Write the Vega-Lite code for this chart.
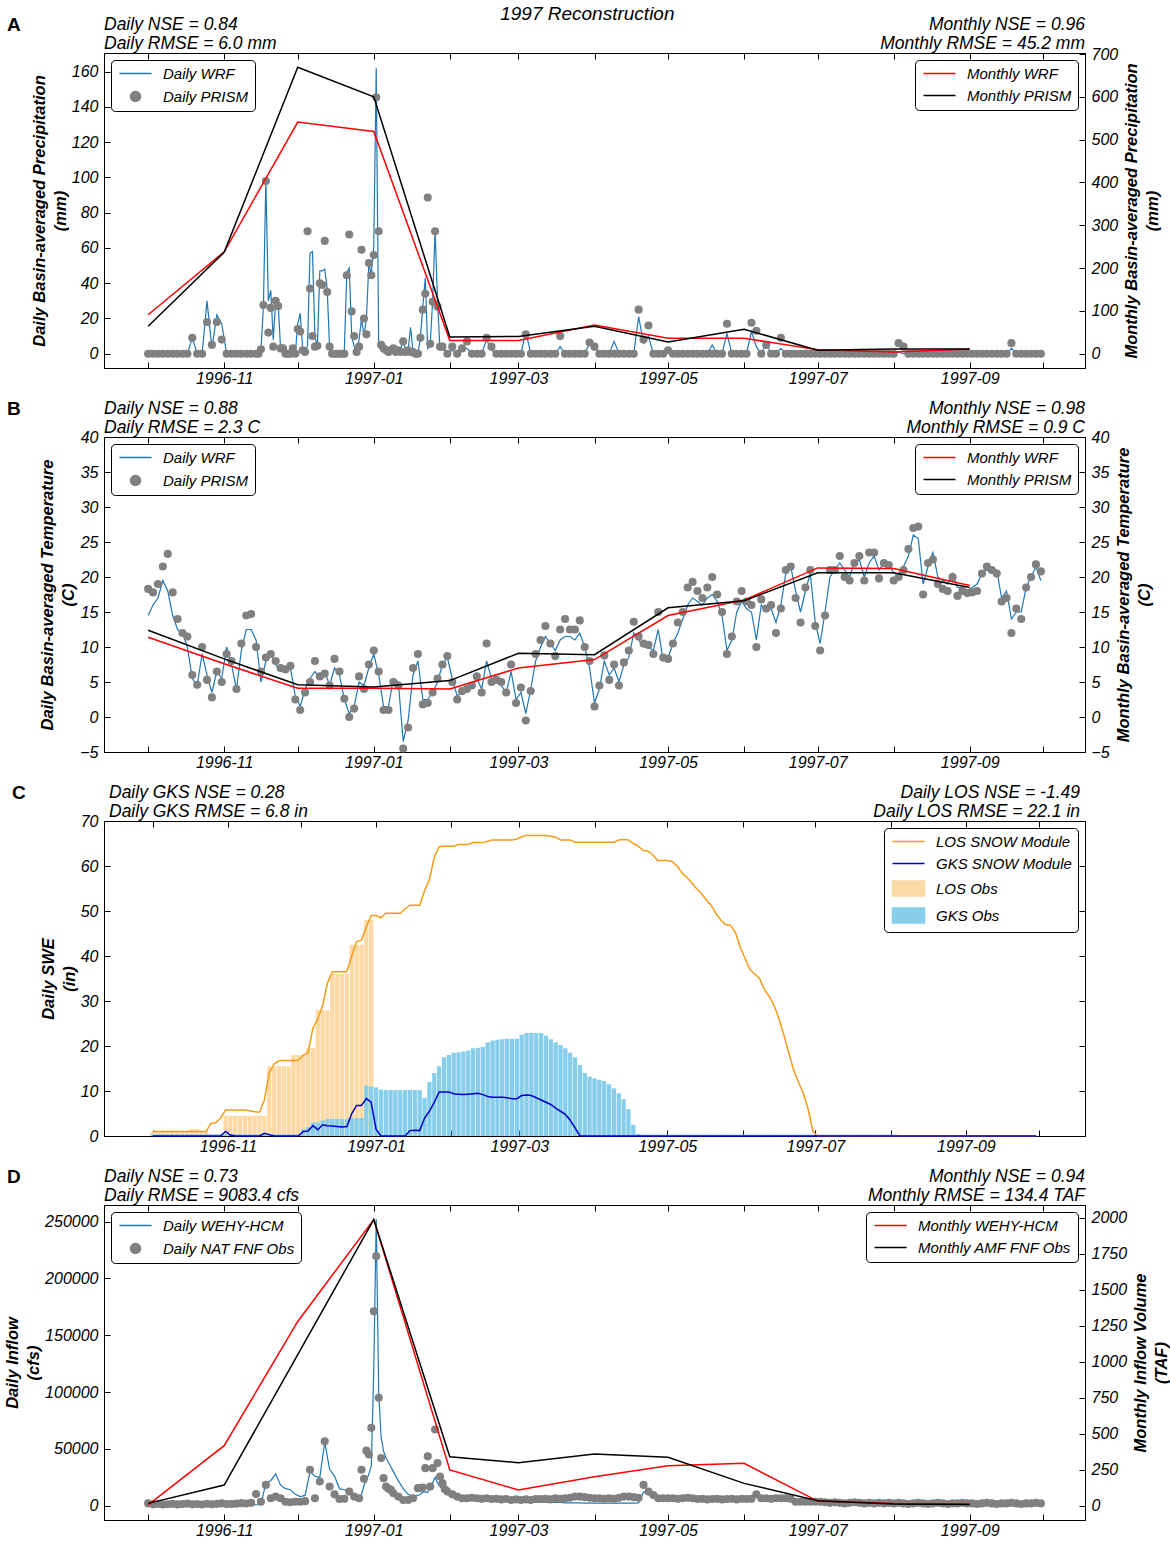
{
"$schema":"https://vega.github.io/schema/vega-lite/v6.json",
"background":"white",
"padding":{"left":4,"right":0,"top":4,"bottom":0},
"title":{"text":"1997 Reconstruction","fontSize":19,"fontStyle":"italic","fontWeight":"normal","anchor":"middle","frame":"bounds","offset":-8,"color":"black"},
"config":{
 "font":"Liberation Sans",
 "view":{"stroke":"black","strokeWidth":1},
 "axis":{"domainColor":"black","tickColor":"black","tickSize":-6,"labelPadding":12,"labelFontSize":16,"labelFontStyle":"italic","labelColor":"black","titleFontSize":16.5,"titleFontStyle":"italic","titleFontWeight":"bold","titleColor":"black","titlePadding":3,"titleLineHeight":21,"grid":false,"labelOverlap":false},
 "legend":{"strokeColor":"black","fillColor":"white","cornerRadius":4,"padding":6,"labelFontSize":15,"labelFontStyle":"italic","labelColor":"black","labelOffset":31,"rowPadding":6,"offset":7,"symbolSize":100}
},
"datasets":{
"m":[
{"t":"1996-10-01","aw":91,"ap":64,"bw":11.4,"bp":12.4,"dw":5,"dp":16},
{"t":"1996-11-01","aw":238,"ap":237,"bw":7.6,"bp":8.3,"dw":417,"dp":143},
{"t":"1996-12-01","aw":541,"ap":669,"bw":4.1,"bp":4.6,"dw":1280,"dp":1050},
{"t":"1997-01-01","aw":519,"ap":600,"bw":4.1,"bp":4.3,"dw":1988,"dp":1988},
{"t":"1997-02-01","aw":31,"ap":39,"bw":4.0,"bp":5.2,"dw":248,"dp":340},
{"t":"1997-03-01","aw":31,"ap":40,"bw":7.0,"bp":9.1,"dw":109,"dp":299},
{"t":"1997-04-01","aw":67,"ap":64,"bw":8.2,"bp":8.9,"dw":201,"dp":359},
{"t":"1997-05-01","aw":36,"ap":27,"bw":14.5,"bp":15.6,"dw":278,"dp":336},
{"t":"1997-06-01","aw":36,"ap":57,"bw":16.7,"bp":16.6,"dw":294,"dp":155},
{"t":"1997-07-01","aw":9,"ap":8,"bw":21.3,"bp":20.6,"dw":32,"dp":35},
{"t":"1997-08-01","aw":4,"ap":11,"bw":21.2,"bp":20.6,"dw":15,"dp":12},
{"t":"1997-09-01","aw":11,"ap":11,"bw":18.8,"bp":18.5,"dw":12,"dp":9}
],
"a":[
{"t":"1996-10-01","w":0,"p":0},{"t":"1996-10-03","w":0,"p":0},{"t":"1996-10-05","w":0,"p":0},{"t":"1996-10-07","w":0,"p":0},{"t":"1996-10-09","w":0,"p":0},{"t":"1996-10-11","w":0,"p":0},{"t":"1996-10-13","w":0,"p":0},{"t":"1996-10-15","w":0,"p":0},{"t":"1996-10-17","w":0,"p":0},{"t":"1996-10-19","w":9,"p":9},{"t":"1996-10-21","w":0,"p":0},{"t":"1996-10-23","w":0,"p":0},{"t":"1996-10-25","w":30,"p":18},{"t":"1996-10-27","w":3,"p":5},{"t":"1996-10-29","w":22,"p":18},{"t":"1996-10-31","w":17,"p":8},
{"t":"1996-11-02","w":0,"p":0},{"t":"1996-11-04","w":0,"p":0},{"t":"1996-11-06","w":0,"p":0},{"t":"1996-11-08","w":0,"p":0},{"t":"1996-11-10","w":0,"p":0},{"t":"1996-11-12","w":0,"p":0},{"t":"1996-11-14","w":0,"p":0},{"t":"1996-11-15","w":0,"p":0},{"t":"1996-11-16","w":2,"p":2.5},{"t":"1996-11-17","w":27,"p":27.6},{"t":"1996-11-18","w":99,"p":98},{"t":"1996-11-19","w":30,"p":12},{"t":"1996-11-20","w":36,"p":26},{"t":"1996-11-21","w":8,"p":4},{"t":"1996-11-22","w":30,"p":30},{"t":"1996-11-23","w":29,"p":27},{"t":"1996-11-24","w":3,"p":3},{"t":"1996-11-25","w":3,"p":3},{"t":"1996-11-26","w":0,"p":0},{"t":"1996-11-27","w":0,"p":0},{"t":"1996-11-28","w":3,"p":0},{"t":"1996-11-29","w":2,"p":3},{"t":"1996-11-30","w":0,"p":0},
{"t":"1996-12-01","w":17,"p":14},{"t":"1996-12-02","w":23,"p":12.6},{"t":"1996-12-03","w":3,"p":2},{"t":"1996-12-04","w":0,"p":1},{"t":"1996-12-05","w":5,"p":69.5},{"t":"1996-12-06","w":57,"p":37},{"t":"1996-12-07","w":58,"p":10},{"t":"1996-12-08","w":10,"p":4},{"t":"1996-12-09","w":4,"p":4.5},{"t":"1996-12-10","w":47,"p":40},{"t":"1996-12-11","w":47,"p":39},{"t":"1996-12-12","w":48,"p":64},{"t":"1996-12-13","w":37,"p":35},{"t":"1996-12-14","w":3,"p":4},{"t":"1996-12-15","w":0,"p":0},{"t":"1996-12-16","w":0,"p":0},{"t":"1996-12-17","w":0,"p":0},{"t":"1996-12-18","w":0,"p":0},{"t":"1996-12-19","w":0,"p":0},{"t":"1996-12-20","w":2,"p":0},{"t":"1996-12-21","w":46,"p":44.5},{"t":"1996-12-22","w":48.6,"p":67.6},{"t":"1996-12-23","w":10,"p":24},{"t":"1996-12-24","w":4,"p":10},{"t":"1996-12-25","w":1,"p":1},{"t":"1996-12-26","w":8,"p":4},{"t":"1996-12-27","w":20,"p":59},{"t":"1996-12-28","w":10,"p":20},{"t":"1996-12-29","w":20,"p":11},{"t":"1996-12-30","w":51,"p":51.5},{"t":"1996-12-31","w":45,"p":44.5},
{"t":"1997-01-01","w":61,"p":56},{"t":"1997-01-02","w":162,"p":145.5},{"t":"1997-01-03","w":5,"p":69.5},{"t":"1997-01-04","w":2,"p":5},{"t":"1997-01-05","w":1,"p":3},{"t":"1997-01-06","w":2,"p":2},{"t":"1997-01-07","w":1,"p":1},{"t":"1997-01-08","w":3,"p":2},{"t":"1997-01-09","w":2,"p":3},{"t":"1997-01-10","w":1,"p":1},{"t":"1997-01-11","w":2,"p":2},{"t":"1997-01-12","w":3,"p":1},{"t":"1997-01-13","w":7,"p":7},{"t":"1997-01-14","w":2,"p":1},{"t":"1997-01-15","w":2,"p":2},{"t":"1997-01-16","w":15,"p":1},{"t":"1997-01-17","w":1,"p":1},{"t":"1997-01-18","w":0,"p":0},{"t":"1997-01-19","w":0,"p":0},{"t":"1997-01-20","w":9,"p":9},{"t":"1997-01-21","w":27,"p":25},{"t":"1997-01-22","w":43,"p":34},{"t":"1997-01-23","w":3,"p":88.6},{"t":"1997-01-24","w":5,"p":5.6},{"t":"1997-01-25","w":30,"p":29.5},{"t":"1997-01-26","w":70,"p":69.5},{"t":"1997-01-27","w":30,"p":26.7},{"t":"1997-01-28","w":2,"p":4},{"t":"1997-01-29","w":3,"p":4},{"t":"1997-01-31","w":0,"p":0},
{"t":"1997-02-02","w":2,"p":4},{"t":"1997-02-04","w":0,"p":0},{"t":"1997-02-06","w":3,"p":3},{"t":"1997-02-08","w":3,"p":7},{"t":"1997-02-10","w":0,"p":0},{"t":"1997-02-12","w":0,"p":0},{"t":"1997-02-14","w":0,"p":0},{"t":"1997-02-16","w":8,"p":9},{"t":"1997-02-18","w":2,"p":4},{"t":"1997-02-20","w":0,"p":0},{"t":"1997-02-22","w":0,"p":0},{"t":"1997-02-24","w":0,"p":0},{"t":"1997-02-26","w":0,"p":0},{"t":"1997-02-28","w":0,"p":0},
{"t":"1997-03-02","w":0,"p":0},{"t":"1997-03-04","w":12.6,"p":11},{"t":"1997-03-06","w":0,"p":0},{"t":"1997-03-08","w":0,"p":0},{"t":"1997-03-10","w":0,"p":0},{"t":"1997-03-12","w":0,"p":0},{"t":"1997-03-14","w":0,"p":0},{"t":"1997-03-16","w":0,"p":0},{"t":"1997-03-18","w":4,"p":10},{"t":"1997-03-20","w":0,"p":0},{"t":"1997-03-22","w":0,"p":0},{"t":"1997-03-24","w":0,"p":0},{"t":"1997-03-26","w":0,"p":0},{"t":"1997-03-28","w":0,"p":0},{"t":"1997-03-30","w":6,"p":6.4},
{"t":"1997-04-01","w":5,"p":4},{"t":"1997-04-03","w":0,"p":0},{"t":"1997-04-05","w":0,"p":0},{"t":"1997-04-07","w":0,"p":0},{"t":"1997-04-09","w":7,"p":0},{"t":"1997-04-11","w":0,"p":0},{"t":"1997-04-13","w":0,"p":0},{"t":"1997-04-15","w":0,"p":0},{"t":"1997-04-17","w":0,"p":0},{"t":"1997-04-19","w":21,"p":25},{"t":"1997-04-21","w":6,"p":8},{"t":"1997-04-23","w":10,"p":16},{"t":"1997-04-25","w":0,"p":0},{"t":"1997-04-27","w":0,"p":0},{"t":"1997-04-29","w":0,"p":0},
{"t":"1997-05-01","w":1,"p":2},{"t":"1997-05-03","w":0,"p":0},{"t":"1997-05-05","w":0,"p":0},{"t":"1997-05-07","w":0,"p":0},{"t":"1997-05-09","w":0,"p":0},{"t":"1997-05-11","w":0,"p":0},{"t":"1997-05-13","w":0,"p":0},{"t":"1997-05-15","w":0,"p":0},{"t":"1997-05-17","w":0,"p":0},{"t":"1997-05-19","w":5,"p":0},{"t":"1997-05-21","w":0,"p":0},{"t":"1997-05-23","w":0,"p":0},{"t":"1997-05-25","w":11.6,"p":17},{"t":"1997-05-27","w":0,"p":0},{"t":"1997-05-29","w":0,"p":0},{"t":"1997-05-31","w":0,"p":0},
{"t":"1997-06-02","w":0,"p":0},{"t":"1997-06-04","w":12.6,"p":17.6},{"t":"1997-06-06","w":4,"p":13},{"t":"1997-06-08","w":0,"p":0},{"t":"1997-06-10","w":6,"p":5},{"t":"1997-06-12","w":0,"p":0},{"t":"1997-06-14","w":0,"p":0},{"t":"1997-06-16","w":3,"p":9},{"t":"1997-06-18","w":0,"p":0},{"t":"1997-06-20","w":0,"p":0},{"t":"1997-06-22","w":0,"p":0},{"t":"1997-06-24","w":0,"p":0},{"t":"1997-06-26","w":0,"p":0},{"t":"1997-06-28","w":0,"p":0},{"t":"1997-06-30","w":0,"p":0},
{"t":"1997-07-02","w":0,"p":0},{"t":"1997-07-04","w":0,"p":0},{"t":"1997-07-06","w":0,"p":0},{"t":"1997-07-08","w":0,"p":0},{"t":"1997-07-10","w":0,"p":0},{"t":"1997-07-12","w":0,"p":0},{"t":"1997-07-14","w":0,"p":0},{"t":"1997-07-16","w":0,"p":0},{"t":"1997-07-18","w":0,"p":0},{"t":"1997-07-20","w":0,"p":0},{"t":"1997-07-22","w":0,"p":0},{"t":"1997-07-24","w":0,"p":0},{"t":"1997-07-26","w":0,"p":0},{"t":"1997-07-28","w":0,"p":0},{"t":"1997-07-30","w":0,"p":0},
{"t":"1997-08-01","w":0,"p":0},{"t":"1997-08-03","w":1,"p":6},{"t":"1997-08-05","w":0,"p":4},{"t":"1997-08-07","w":0,"p":0},{"t":"1997-08-09","w":0,"p":0},{"t":"1997-08-11","w":0,"p":0},{"t":"1997-08-13","w":0,"p":0},{"t":"1997-08-15","w":0,"p":0},{"t":"1997-08-17","w":0,"p":0},{"t":"1997-08-19","w":0,"p":0},{"t":"1997-08-21","w":0,"p":0},{"t":"1997-08-23","w":0,"p":0},{"t":"1997-08-25","w":0,"p":0},{"t":"1997-08-27","w":0,"p":0},{"t":"1997-08-29","w":0,"p":0},{"t":"1997-08-31","w":0,"p":0},
{"t":"1997-09-02","w":0,"p":0},{"t":"1997-09-04","w":0,"p":0},{"t":"1997-09-06","w":0,"p":0},{"t":"1997-09-08","w":0,"p":0},{"t":"1997-09-10","w":0,"p":0},{"t":"1997-09-12","w":0,"p":0},{"t":"1997-09-14","w":0,"p":0},{"t":"1997-09-16","w":0,"p":0},{"t":"1997-09-18","w":3,"p":6},{"t":"1997-09-20","w":0,"p":0},{"t":"1997-09-22","w":0,"p":0},{"t":"1997-09-24","w":0,"p":0},{"t":"1997-09-26","w":0,"p":0},{"t":"1997-09-28","w":0,"p":0},{"t":"1997-09-30","w":0,"p":0}
],
"b":[
{"t":"1996-10-01","w":14.5,"p":18.3},{"t":"1996-10-03","w":16,"p":17.8},{"t":"1996-10-05","w":17,"p":19},{"t":"1996-10-07","w":19.5,"p":21.5},{"t":"1996-10-09","w":18,"p":23.3},{"t":"1996-10-11","w":14.5,"p":17.8},{"t":"1996-10-13","w":12.5,"p":14},{"t":"1996-10-15","w":12,"p":12},{"t":"1996-10-17","w":10,"p":11.5},{"t":"1996-10-19","w":5.5,"p":6},{"t":"1996-10-21","w":4.5,"p":4.6},{"t":"1996-10-23","w":9,"p":10},{"t":"1996-10-25","w":6,"p":5.3},{"t":"1996-10-27","w":3.5,"p":2.8},{"t":"1996-10-29","w":6.5,"p":6.5},{"t":"1996-10-31","w":5.5,"p":5},
{"t":"1996-11-02","w":10,"p":9},{"t":"1996-11-04","w":7.5,"p":8},{"t":"1996-11-06","w":4,"p":4},{"t":"1996-11-08","w":9.5,"p":10.5},{"t":"1996-11-10","w":12.5,"p":14.5},{"t":"1996-11-12","w":12.5,"p":14.7},{"t":"1996-11-14","w":11,"p":10},{"t":"1996-11-16","w":5,"p":6.5},{"t":"1996-11-18","w":8,"p":8.5},{"t":"1996-11-20","w":9,"p":9},{"t":"1996-11-22","w":7.5,"p":8},{"t":"1996-11-24","w":6.5,"p":7},{"t":"1996-11-26","w":6.5,"p":6.8},{"t":"1996-11-28","w":7,"p":7.3},{"t":"1996-11-30","w":3,"p":2.5},
{"t":"1996-12-02","w":1.5,"p":1},{"t":"1996-12-04","w":4,"p":3.5},{"t":"1996-12-06","w":5.5,"p":5},{"t":"1996-12-08","w":6.5,"p":8},{"t":"1996-12-10","w":5.5,"p":5.8},{"t":"1996-12-12","w":6.5,"p":6.2},{"t":"1996-12-14","w":4.5,"p":4.5},{"t":"1996-12-16","w":7,"p":8.3},{"t":"1996-12-18","w":6,"p":6.5},{"t":"1996-12-20","w":2.5,"p":2.6},{"t":"1996-12-22","w":0.5,"p":0},{"t":"1996-12-24","w":1.5,"p":1.2},{"t":"1996-12-26","w":5,"p":5.8},{"t":"1996-12-28","w":4.5,"p":4},{"t":"1996-12-30","w":7,"p":7.5},
{"t":"1997-01-01","w":9,"p":9.5},{"t":"1997-01-03","w":6,"p":6.5},{"t":"1997-01-05","w":1.5,"p":1},{"t":"1997-01-07","w":1.5,"p":1},{"t":"1997-01-09","w":5.5,"p":5},{"t":"1997-01-11","w":5,"p":4.5},{"t":"1997-01-13","w":-3.5,"p":-4.5},{"t":"1997-01-15","w":-0.5,"p":-1.5},{"t":"1997-01-17","w":6,"p":7},{"t":"1997-01-19","w":8,"p":9},{"t":"1997-01-21","w":2.5,"p":1.8},{"t":"1997-01-23","w":2.5,"p":2},{"t":"1997-01-25","w":3.5,"p":3.5},{"t":"1997-01-27","w":5,"p":5.5},{"t":"1997-01-29","w":7.5,"p":7.5},{"t":"1997-01-31","w":8.5,"p":8.7},
{"t":"1997-02-02","w":5.5,"p":5},{"t":"1997-02-04","w":3,"p":2.5},{"t":"1997-02-06","w":3.5,"p":3.7},{"t":"1997-02-08","w":4.5,"p":4},{"t":"1997-02-10","w":4.5,"p":4.5},{"t":"1997-02-12","w":5.5,"p":5.8},{"t":"1997-02-14","w":4,"p":3.5},{"t":"1997-02-16","w":8,"p":10.5},{"t":"1997-02-18","w":5.5,"p":5},{"t":"1997-02-20","w":5,"p":5.3},{"t":"1997-02-22","w":4.5,"p":5},{"t":"1997-02-24","w":3.5,"p":3.5},{"t":"1997-02-26","w":6.5,"p":7.5},{"t":"1997-02-28","w":2.5,"p":2},
{"t":"1997-03-02","w":3.5,"p":4.2},{"t":"1997-03-04","w":0.5,"p":-0.5},{"t":"1997-03-06","w":4,"p":3.7},{"t":"1997-03-08","w":8,"p":9},{"t":"1997-03-10","w":10,"p":11},{"t":"1997-03-12","w":11.5,"p":13},{"t":"1997-03-14","w":10.5,"p":10.5},{"t":"1997-03-16","w":9.5,"p":8.7},{"t":"1997-03-18","w":11,"p":12.5},{"t":"1997-03-20","w":11.5,"p":14},{"t":"1997-03-22","w":11.5,"p":12.5},{"t":"1997-03-24","w":11,"p":12.5},{"t":"1997-03-26","w":12,"p":13.8},{"t":"1997-03-28","w":10,"p":10},{"t":"1997-03-30","w":7,"p":8},
{"t":"1997-04-01","w":2,"p":1.5},{"t":"1997-04-03","w":4,"p":4.5},{"t":"1997-04-05","w":8,"p":8.8},{"t":"1997-04-07","w":6,"p":5.3},{"t":"1997-04-09","w":7,"p":7.5},{"t":"1997-04-11","w":5,"p":4.5},{"t":"1997-04-13","w":7.5,"p":7.8},{"t":"1997-04-15","w":8.5,"p":9.5},{"t":"1997-04-17","w":12,"p":13.6},{"t":"1997-04-19","w":11,"p":11.5},{"t":"1997-04-21","w":10,"p":10.5},{"t":"1997-04-23","w":10,"p":10.3},{"t":"1997-04-25","w":9.5,"p":9},{"t":"1997-04-27","w":12.5,"p":15},{"t":"1997-04-29","w":8,"p":8.5},
{"t":"1997-05-01","w":8.5,"p":8.3},{"t":"1997-05-03","w":10.5,"p":10.5},{"t":"1997-05-05","w":12,"p":13.5},{"t":"1997-05-07","w":14,"p":15},{"t":"1997-05-09","w":16,"p":18.5},{"t":"1997-05-11","w":17,"p":19.3},{"t":"1997-05-13","w":16.5,"p":18},{"t":"1997-05-15","w":16,"p":17},{"t":"1997-05-17","w":17,"p":18.5},{"t":"1997-05-19","w":17.5,"p":20},{"t":"1997-05-21","w":16.5,"p":17.5},{"t":"1997-05-23","w":14.5,"p":15},{"t":"1997-05-25","w":9.5,"p":9},{"t":"1997-05-27","w":11,"p":11.5},{"t":"1997-05-29","w":15,"p":16.5},{"t":"1997-05-31","w":16.5,"p":18},
{"t":"1997-06-02","w":15.5,"p":16.5},{"t":"1997-06-04","w":15,"p":16},{"t":"1997-06-06","w":11,"p":10},{"t":"1997-06-08","w":16,"p":16.8},{"t":"1997-06-10","w":15,"p":15.5},{"t":"1997-06-12","w":15.5,"p":16},{"t":"1997-06-14","w":13.5,"p":12},{"t":"1997-06-16","w":16,"p":15.5},{"t":"1997-06-18","w":20.5,"p":21},{"t":"1997-06-20","w":21.5,"p":21.5},{"t":"1997-06-22","w":18,"p":17},{"t":"1997-06-24","w":15,"p":13.5},{"t":"1997-06-26","w":18,"p":18.5},{"t":"1997-06-28","w":20.5,"p":21},{"t":"1997-06-30","w":13.5,"p":13},
{"t":"1997-07-02","w":10.5,"p":9.5},{"t":"1997-07-04","w":15,"p":14.5},{"t":"1997-07-06","w":20,"p":21},{"t":"1997-07-08","w":21,"p":21},{"t":"1997-07-10","w":22,"p":23},{"t":"1997-07-12","w":21,"p":20},{"t":"1997-07-14","w":20,"p":19.5},{"t":"1997-07-16","w":22,"p":22},{"t":"1997-07-18","w":22.5,"p":23},{"t":"1997-07-20","w":20,"p":19.5},{"t":"1997-07-22","w":22,"p":23.5},{"t":"1997-07-24","w":23,"p":23.5},{"t":"1997-07-26","w":21,"p":19.8},{"t":"1997-07-28","w":22,"p":22},{"t":"1997-07-30","w":22,"p":21.7},
{"t":"1997-08-01","w":20.5,"p":19.5},{"t":"1997-08-03","w":20.5,"p":20},{"t":"1997-08-05","w":21.5,"p":21},{"t":"1997-08-07","w":23,"p":24},{"t":"1997-08-09","w":26,"p":27},{"t":"1997-08-11","w":25.5,"p":27.2},{"t":"1997-08-13","w":19,"p":17.5},{"t":"1997-08-15","w":21.5,"p":22},{"t":"1997-08-17","w":23.5,"p":22.5},{"t":"1997-08-19","w":20,"p":19},{"t":"1997-08-21","w":19.5,"p":18.3},{"t":"1997-08-23","w":19,"p":18},{"t":"1997-08-25","w":20.5,"p":20},{"t":"1997-08-27","w":18.5,"p":17.3},{"t":"1997-08-29","w":18.5,"p":18},{"t":"1997-08-31","w":18,"p":17.7},
{"t":"1997-09-02","w":18.5,"p":17.8},{"t":"1997-09-04","w":19,"p":18},{"t":"1997-09-06","w":20.5,"p":20.5},{"t":"1997-09-08","w":21,"p":21.5},{"t":"1997-09-10","w":20.5,"p":21},{"t":"1997-09-12","w":21,"p":20.5},{"t":"1997-09-14","w":17,"p":16.5},{"t":"1997-09-16","w":18,"p":17},{"t":"1997-09-18","w":14,"p":12},{"t":"1997-09-20","w":15,"p":15.5},{"t":"1997-09-22","w":15,"p":14},{"t":"1997-09-24","w":18.5,"p":18.5},{"t":"1997-09-26","w":20,"p":20},{"t":"1997-09-28","w":21.5,"p":21.8},{"t":"1997-09-30","w":19.5,"p":20.8}
],
"c":[
{"t":"1996-10-01","l":1,"g":0,"lo":1,"go":0.4},{"t":"1996-10-03","l":1,"g":0,"lo":1,"go":0.4},{"t":"1996-10-05","l":1,"g":0,"lo":1,"go":0.4},{"t":"1996-10-07","l":1,"g":0,"lo":1,"go":0.4},{"t":"1996-10-09","l":1,"g":0,"lo":1,"go":0.4},{"t":"1996-10-11","l":1,"g":0,"lo":1,"go":0.4},{"t":"1996-10-13","l":1,"g":0,"lo":1,"go":0.4},{"t":"1996-10-15","l":1,"g":0,"lo":1,"go":0.4},{"t":"1996-10-17","l":1,"g":0,"lo":1.5,"go":0.4},{"t":"1996-10-19","l":1,"g":0,"lo":1.5,"go":0.4},{"t":"1996-10-21","l":1,"g":0,"lo":1,"go":0.4},{"t":"1996-10-23","l":1,"g":0,"lo":1,"go":0.4},{"t":"1996-10-25","l":2.8,"g":0,"lo":0.5,"go":0.4},{"t":"1996-10-27","l":3,"g":0,"lo":0.5,"go":0.4},{"t":"1996-10-29","l":4,"g":0,"lo":0.5,"go":0.4},{"t":"1996-10-31","l":5.8,"g":1,"lo":4.5,"go":0.4},
{"t":"1996-11-02","l":5.8,"g":0.2,"lo":4.5,"go":0.4},{"t":"1996-11-04","l":5.8,"g":0,"lo":4.5,"go":0.4},{"t":"1996-11-06","l":5.8,"g":0,"lo":4.5,"go":0.4},{"t":"1996-11-08","l":5.8,"g":0,"lo":4.5,"go":0.4},{"t":"1996-11-10","l":5.6,"g":0,"lo":4.5,"go":0.4},{"t":"1996-11-12","l":5.4,"g":0,"lo":4.5,"go":0.4},{"t":"1996-11-14","l":5.3,"g":0,"lo":4.5,"go":0.4},{"t":"1996-11-16","l":8,"g":0.6,"lo":4.5,"go":0.4},{"t":"1996-11-18","l":14,"g":0.3,"lo":15.5,"go":0.4},{"t":"1996-11-20","l":16,"g":0,"lo":15.5,"go":0.4},{"t":"1996-11-22","l":16.7,"g":0,"lo":15.5,"go":0.4},{"t":"1996-11-24","l":16.8,"g":0,"lo":15.5,"go":0.4},{"t":"1996-11-26","l":16.8,"g":0,"lo":15.5,"go":0.4},{"t":"1996-11-28","l":16.8,"g":0,"lo":18,"go":0.4},{"t":"1996-11-30","l":16.8,"g":0,"lo":18,"go":0.4},
{"t":"1996-12-02","l":18,"g":1,"lo":18,"go":1.5},{"t":"1996-12-04","l":18.5,"g":1.1,"lo":19.5,"go":2},{"t":"1996-12-06","l":24,"g":2.3,"lo":19.5,"go":3},{"t":"1996-12-08","l":26,"g":1.4,"lo":28,"go":3},{"t":"1996-12-10","l":29,"g":2.5,"lo":28,"go":3.5},{"t":"1996-12-12","l":34,"g":2.3,"lo":28,"go":3.8},{"t":"1996-12-14","l":36.5,"g":2.2,"lo":36,"go":3.8},{"t":"1996-12-16","l":36.5,"g":2.1,"lo":36,"go":3.8},{"t":"1996-12-18","l":36.5,"g":2,"lo":36,"go":3.8},{"t":"1996-12-20","l":36.5,"g":2.1,"lo":36,"go":3.8},{"t":"1996-12-22","l":40,"g":5,"lo":42.5,"go":4},{"t":"1996-12-24","l":43.2,"g":6.8,"lo":42.5,"go":4},{"t":"1996-12-26","l":43.5,"g":6.8,"lo":42.5,"go":4},{"t":"1996-12-28","l":46.5,"g":8.3,"lo":48,"go":11.2},{"t":"1996-12-30","l":49,"g":7.5,"lo":48,"go":11},
{"t":"1997-01-01","l":49,"g":1.5,"go":10.8},{"t":"1997-01-03","l":48.5,"g":0,"go":10.3},{"t":"1997-01-05","l":49.5,"g":0,"go":10.2},{"t":"1997-01-07","l":49.5,"g":0,"go":10.2},{"t":"1997-01-09","l":49.5,"g":0,"go":10.2},{"t":"1997-01-11","l":49.5,"g":0,"go":10.2},{"t":"1997-01-13","l":50.5,"g":0,"go":10.2},{"t":"1997-01-15","l":51.3,"g":1.2,"go":10.2},{"t":"1997-01-17","l":51.3,"g":1.3,"go":10.2},{"t":"1997-01-19","l":51.3,"g":1.2,"go":10.2},{"t":"1997-01-21","l":54.5,"g":4,"go":8.5},{"t":"1997-01-23","l":57,"g":5.5,"go":12},{"t":"1997-01-25","l":62,"g":7.5,"go":14},{"t":"1997-01-27","l":64.3,"g":9.8,"go":15.5},{"t":"1997-01-29","l":64.4,"g":9.8,"go":17.5},{"t":"1997-01-31","l":64.4,"g":9.8,"go":18},
{"t":"1997-02-02","l":64.4,"g":9.4,"go":18.5},{"t":"1997-02-04","l":64.8,"g":9.3,"go":18.6},{"t":"1997-02-06","l":64.8,"g":9.2,"go":18.8},{"t":"1997-02-08","l":64.8,"g":9.3,"go":19},{"t":"1997-02-10","l":65.2,"g":9.4,"go":19.5},{"t":"1997-02-12","l":65.2,"g":9.5,"go":19.6},{"t":"1997-02-14","l":65.2,"g":9.2,"go":19.8},{"t":"1997-02-16","l":65.5,"g":8.8,"go":20.8},{"t":"1997-02-18","l":65.8,"g":8.6,"go":21.2},{"t":"1997-02-20","l":65.8,"g":8.6,"go":21.4},{"t":"1997-02-22","l":65.8,"g":8.6,"go":21.5},{"t":"1997-02-24","l":65.8,"g":8.5,"go":21.6},{"t":"1997-02-26","l":65.8,"g":8.3,"go":21.6},{"t":"1997-02-28","l":66,"g":8.3,"go":21.6},
{"t":"1997-03-02","l":66.5,"g":9,"go":22.5},{"t":"1997-03-04","l":66.8,"g":9.1,"go":22.9},{"t":"1997-03-06","l":66.8,"g":9,"go":22.9},{"t":"1997-03-08","l":66.8,"g":8.5,"go":22.9},{"t":"1997-03-10","l":66.8,"g":8,"go":22.9},{"t":"1997-03-12","l":66.8,"g":7.5,"go":22.3},{"t":"1997-03-14","l":66.6,"g":7,"go":21.5},{"t":"1997-03-16","l":66.4,"g":6.2,"go":20.8},{"t":"1997-03-18","l":65.8,"g":5.5,"go":20.2},{"t":"1997-03-20","l":65.8,"g":4.8,"go":19.5},{"t":"1997-03-22","l":65.8,"g":3.5,"go":18.5},{"t":"1997-03-24","l":65.3,"g":1.8,"go":17.5},{"t":"1997-03-26","l":65.3,"g":0,"go":15.8},{"t":"1997-03-28","l":65.3,"g":0,"go":14},{"t":"1997-03-30","l":65.3,"g":0,"go":13.2},
{"t":"1997-04-01","l":65.3,"g":0,"go":12.8},{"t":"1997-04-03","l":65.3,"g":0,"go":12.5},{"t":"1997-04-05","l":65.3,"g":0,"go":12.2},{"t":"1997-04-07","l":65.3,"g":0,"go":11.5},{"t":"1997-04-09","l":65.3,"g":0,"go":10.6},{"t":"1997-04-11","l":65.8,"g":0,"go":9.5},{"t":"1997-04-13","l":65.9,"g":0,"go":8.2},{"t":"1997-04-15","l":65.8,"g":0,"go":6},{"t":"1997-04-17","l":65,"g":0,"go":2.5},{"t":"1997-04-19","l":64.4,"g":0,"go":0.5},{"t":"1997-04-21","l":63.5,"g":0,"go":0.3},{"t":"1997-04-23","l":63.3,"g":0,"go":0.3},{"t":"1997-04-25","l":62.5,"g":0,"go":0.3},{"t":"1997-04-27","l":61.2,"g":0,"go":0.3},{"t":"1997-04-29","l":61.2,"g":0,"go":0.3},
{"t":"1997-05-01","l":61.2,"g":0,"go":0.3},{"t":"1997-05-03","l":61,"g":0,"go":0.3},{"t":"1997-05-05","l":60,"g":0,"go":0.3},{"t":"1997-05-07","l":58.5,"g":0,"go":0.3},{"t":"1997-05-09","l":57.5,"g":0,"go":0.3},{"t":"1997-05-11","l":56.3,"g":0,"go":0.3},{"t":"1997-05-13","l":55,"g":0,"go":0.3},{"t":"1997-05-15","l":53.9,"g":0,"go":0.3},{"t":"1997-05-17","l":52.5,"g":0,"go":0.3},{"t":"1997-05-19","l":51.3,"g":0,"go":0.3},{"t":"1997-05-21","l":49.5,"g":0,"go":0.3},{"t":"1997-05-23","l":48,"g":0,"go":0.3},{"t":"1997-05-25","l":47,"g":0,"go":0.3},{"t":"1997-05-27","l":46.8,"g":0,"go":0.3},{"t":"1997-05-29","l":45.3,"g":0,"go":0.3},{"t":"1997-05-31","l":42,"g":0,"go":0.3},
{"t":"1997-06-02","l":39.5,"g":0,"go":0.3},{"t":"1997-06-04","l":37,"g":0,"go":0.3},{"t":"1997-06-06","l":36,"g":0,"go":0.3},{"t":"1997-06-08","l":35,"g":0,"go":0.3},{"t":"1997-06-10","l":32.5,"g":0,"go":0.3},{"t":"1997-06-12","l":31,"g":0,"go":0.3},{"t":"1997-06-14","l":29,"g":0,"go":0.3},{"t":"1997-06-16","l":26,"g":0,"go":0.3},{"t":"1997-06-18","l":22.5,"g":0,"go":0.3},{"t":"1997-06-20","l":18.5,"g":0,"go":0.3},{"t":"1997-06-22","l":14.7,"g":0,"go":0.3},{"t":"1997-06-24","l":12,"g":0,"go":0.3},{"t":"1997-06-26","l":9.5,"g":0,"go":0.3},{"t":"1997-06-28","l":6,"g":0,"go":0.3},{"t":"1997-06-30","l":1,"g":0,"go":0.3},
{"t":"1997-07-02","l":0,"g":0,"go":0.3},{"t":"1997-07-04","l":0,"g":0,"go":0.3},{"t":"1997-07-06","l":0,"g":0,"go":0.3},{"t":"1997-07-08","l":0,"g":0,"go":0.3},{"t":"1997-07-10","l":0,"g":0,"go":0.3},{"t":"1997-07-12","l":0,"g":0,"go":0.3},{"t":"1997-07-14","l":0,"g":0,"go":0.3},{"t":"1997-07-16","l":0,"g":0,"go":0.3},{"t":"1997-07-18","l":0,"g":0,"go":0.3},{"t":"1997-07-20","l":0,"g":0,"go":0.3},{"t":"1997-07-22","l":0,"g":0,"go":0.3},{"t":"1997-07-24","l":0,"g":0,"go":0.3},{"t":"1997-07-26","l":0,"g":0,"go":0.3},{"t":"1997-07-28","l":0,"g":0,"go":0.3},{"t":"1997-07-30","l":0,"g":0,"go":0.3},
{"t":"1997-08-01","l":0,"g":0,"go":0.3},{"t":"1997-08-03","l":0,"g":0,"go":0.3},{"t":"1997-08-05","l":0,"g":0},{"t":"1997-08-07","l":0,"g":0},{"t":"1997-08-09","l":0,"g":0},{"t":"1997-08-11","l":0,"g":0},{"t":"1997-08-13","l":0,"g":0},{"t":"1997-08-15","l":0,"g":0},{"t":"1997-08-17","l":0,"g":0},{"t":"1997-08-19","l":0,"g":0},{"t":"1997-08-21","l":0,"g":0},{"t":"1997-08-23","l":0,"g":0},{"t":"1997-08-25","l":0,"g":0},{"t":"1997-08-27","l":0,"g":0},{"t":"1997-08-29","l":0,"g":0},{"t":"1997-08-31","l":0,"g":0},
{"t":"1997-09-02","l":0,"g":0},{"t":"1997-09-04","l":0,"g":0},{"t":"1997-09-06","l":0,"g":0},{"t":"1997-09-08","l":0,"g":0},{"t":"1997-09-10","l":0,"g":0},{"t":"1997-09-12","l":0,"g":0},{"t":"1997-09-14","l":0,"g":0},{"t":"1997-09-16","l":0,"g":0},{"t":"1997-09-18","l":0,"g":0},{"t":"1997-09-20","l":0,"g":0},{"t":"1997-09-22","l":0,"g":0},{"t":"1997-09-24","l":0,"g":0},{"t":"1997-09-26","l":0,"g":0},{"t":"1997-09-28","l":0,"g":0},{"t":"1997-09-30","l":0,"g":0}
],
"d":[
{"t":"1996-10-01","w":1500,"p":2000},{"t":"1996-10-03","w":500,"p":1200},{"t":"1996-10-05","w":500,"p":1500},{"t":"1996-10-07","w":500,"p":1000},{"t":"1996-10-09","w":500,"p":1300},{"t":"1996-10-11","w":500,"p":1600},{"t":"1996-10-13","w":500,"p":1100},{"t":"1996-10-15","w":500,"p":1400},{"t":"1996-10-17","w":500,"p":1800},{"t":"1996-10-19","w":600,"p":1200},{"t":"1996-10-21","w":600,"p":1500},{"t":"1996-10-23","w":600,"p":1000},{"t":"1996-10-25","w":700,"p":1700},{"t":"1996-10-27","w":700,"p":1300},{"t":"1996-10-29","w":700,"p":1600},{"t":"1996-10-31","w":700,"p":2000},
{"t":"1996-11-02","w":700,"p":1400},{"t":"1996-11-04","w":700,"p":1500},{"t":"1996-11-06","w":700,"p":1800},{"t":"1996-11-08","w":700,"p":2200},{"t":"1996-11-10","w":700,"p":1900},{"t":"1996-11-12","w":800,"p":2500},{"t":"1996-11-14","w":800,"p":10300},{"t":"1996-11-16","w":1000,"p":3500},{"t":"1996-11-18","w":20000,"p":18300},{"t":"1996-11-20","w":22000,"p":6500},{"t":"1996-11-22","w":28000,"p":8000},{"t":"1996-11-24","w":18000,"p":6500},{"t":"1996-11-26","w":15000,"p":3500},{"t":"1996-11-28","w":14000,"p":3000},{"t":"1996-11-30","w":10000,"p":3500},
{"t":"1996-12-02","w":8000,"p":3500},{"t":"1996-12-04","w":9000,"p":4000},{"t":"1996-12-06","w":30000,"p":31600},{"t":"1996-12-08","w":26000,"p":6500},{"t":"1996-12-10","w":25000,"p":21300},{"t":"1996-12-12","w":56000,"p":56700},{"t":"1996-12-14","w":32000,"p":16800},{"t":"1996-12-16","w":26000,"p":10000},{"t":"1996-12-18","w":15000,"p":5900},{"t":"1996-12-20","w":14000,"p":6000},{"t":"1996-12-22","w":12000,"p":12400},{"t":"1996-12-24","w":10000,"p":8000},{"t":"1996-12-26","w":8000,"p":6500},{"t":"1996-12-27","w":10000,"p":31600},{"t":"1996-12-28","w":18000,"p":23600},{"t":"1996-12-29","w":22000,"p":48400},{"t":"1996-12-30","w":28000,"p":45000},{"t":"1996-12-31","w":35000,"p":68500},
{"t":"1997-01-01","w":120000,"p":171000},{"t":"1997-01-02","w":252000,"p":219600},{"t":"1997-01-03","w":100000,"p":95000},{"t":"1997-01-04","w":60000,"p":41900},{"t":"1997-01-05","w":48000,"p":24200},{"t":"1997-01-06","w":42000,"p":16800},{"t":"1997-01-07","w":38000,"p":15000},{"t":"1997-01-08","w":34000,"p":13900},{"t":"1997-01-09","w":30000,"p":10900},{"t":"1997-01-11","w":22000,"p":8000},{"t":"1997-01-13","w":15000,"p":5000},{"t":"1997-01-15","w":10000,"p":5000},{"t":"1997-01-17","w":8000,"p":6500},{"t":"1997-01-19","w":9000,"p":15400},{"t":"1997-01-20","w":10000,"p":15400},{"t":"1997-01-21","w":12000,"p":16000},{"t":"1997-01-22","w":12000,"p":33000},{"t":"1997-01-23","w":12000,"p":43400},{"t":"1997-01-24","w":17000,"p":16800},{"t":"1997-01-25","w":20000,"p":33000},{"t":"1997-01-26","w":25000,"p":67000},{"t":"1997-01-27","w":20000,"p":37500},{"t":"1997-01-28","w":17000,"p":25700},{"t":"1997-01-29","w":14000,"p":19800},{"t":"1997-01-30","w":12000,"p":14500},{"t":"1997-01-31","w":10000,"p":12400},
{"t":"1997-02-02","w":8500,"p":10000},{"t":"1997-02-04","w":7000,"p":8000},{"t":"1997-02-06","w":6000,"p":6500},{"t":"1997-02-08","w":5500,"p":6500},{"t":"1997-02-10","w":5500,"p":7000},{"t":"1997-02-12","w":5000,"p":6500},{"t":"1997-02-14","w":5000,"p":6000},{"t":"1997-02-16","w":4500,"p":6500},{"t":"1997-02-18","w":4500,"p":5900},{"t":"1997-02-20","w":4000,"p":6000},{"t":"1997-02-22","w":4000,"p":5500},{"t":"1997-02-24","w":4000,"p":5900},{"t":"1997-02-26","w":3500,"p":5000},{"t":"1997-02-28","w":3500,"p":5500},
{"t":"1997-03-02","w":3500,"p":5000},{"t":"1997-03-04","w":3500,"p":5500},{"t":"1997-03-06","w":3000,"p":5000},{"t":"1997-03-08","w":3000,"p":5900},{"t":"1997-03-10","w":3000,"p":5900},{"t":"1997-03-12","w":3000,"p":6000},{"t":"1997-03-14","w":3000,"p":5500},{"t":"1997-03-16","w":2800,"p":6500},{"t":"1997-03-18","w":2800,"p":6000},{"t":"1997-03-20","w":2500,"p":6500},{"t":"1997-03-22","w":2500,"p":7000},{"t":"1997-03-24","w":2500,"p":8000},{"t":"1997-03-26","w":2500,"p":8000},{"t":"1997-03-28","w":2300,"p":7500},{"t":"1997-03-30","w":2300,"p":7000},
{"t":"1997-04-01","w":2200,"p":6500},{"t":"1997-04-03","w":2200,"p":6500},{"t":"1997-04-05","w":2200,"p":6000},{"t":"1997-04-07","w":2200,"p":6500},{"t":"1997-04-09","w":2200,"p":6000},{"t":"1997-04-11","w":2200,"p":7000},{"t":"1997-04-13","w":2200,"p":8000},{"t":"1997-04-15","w":2200,"p":8000},{"t":"1997-04-17","w":2300,"p":7500},{"t":"1997-04-19","w":2500,"p":7000},{"t":"1997-04-21","w":12000,"p":18300},{"t":"1997-04-23","w":10000,"p":12400},{"t":"1997-04-25","w":8000,"p":9400},{"t":"1997-04-27","w":6000,"p":6500},{"t":"1997-04-29","w":6000,"p":6500},
{"t":"1997-05-01","w":6000,"p":6500},{"t":"1997-05-03","w":6000,"p":6500},{"t":"1997-05-05","w":6000,"p":6000},{"t":"1997-05-07","w":6000,"p":6500},{"t":"1997-05-09","w":6000,"p":7000},{"t":"1997-05-11","w":6000,"p":6500},{"t":"1997-05-13","w":5000,"p":5900},{"t":"1997-05-15","w":5000,"p":6000},{"t":"1997-05-17","w":5000,"p":5500},{"t":"1997-05-19","w":5000,"p":5900},{"t":"1997-05-21","w":5000,"p":6000},{"t":"1997-05-23","w":5000,"p":5500},{"t":"1997-05-25","w":5000,"p":5900},{"t":"1997-05-27","w":5000,"p":6000},{"t":"1997-05-29","w":5500,"p":5500},{"t":"1997-05-31","w":5500,"p":6000},
{"t":"1997-06-02","w":5500,"p":5900},{"t":"1997-06-04","w":5500,"p":6000},{"t":"1997-06-06","w":10000,"p":10000},{"t":"1997-06-08","w":6000,"p":6500},{"t":"1997-06-10","w":6000,"p":6500},{"t":"1997-06-12","w":6000,"p":6000},{"t":"1997-06-14","w":6000,"p":6500},{"t":"1997-06-16","w":6500,"p":6500},{"t":"1997-06-18","w":8000,"p":6500},{"t":"1997-06-20","w":5000,"p":6000},{"t":"1997-06-22","w":3500,"p":3500},{"t":"1997-06-24","w":3500,"p":3500},{"t":"1997-06-26","w":3500,"p":3500},{"t":"1997-06-28","w":3500,"p":3500},{"t":"1997-06-30","w":3500,"p":3500},
{"t":"1997-07-02","w":1500,"p":3500},{"t":"1997-07-04","w":1500,"p":3000},{"t":"1997-07-06","w":1500,"p":2500},{"t":"1997-07-08","w":1500,"p":3000},{"t":"1997-07-10","w":1500,"p":2500},{"t":"1997-07-12","w":1500,"p":2000},{"t":"1997-07-14","w":1500,"p":2500},{"t":"1997-07-16","w":1500,"p":3000},{"t":"1997-07-18","w":1500,"p":2500},{"t":"1997-07-20","w":1500,"p":2000},{"t":"1997-07-22","w":1500,"p":2500},{"t":"1997-07-24","w":1500,"p":2000},{"t":"1997-07-26","w":1500,"p":2500},{"t":"1997-07-28","w":1500,"p":2000},{"t":"1997-07-30","w":1500,"p":2500},
{"t":"1997-08-01","w":1500,"p":2000},{"t":"1997-08-03","w":1500,"p":2500},{"t":"1997-08-05","w":1500,"p":2000},{"t":"1997-08-07","w":1500,"p":1500},{"t":"1997-08-09","w":1500,"p":2000},{"t":"1997-08-11","w":1500,"p":2500},{"t":"1997-08-13","w":1500,"p":2000},{"t":"1997-08-15","w":1500,"p":1500},{"t":"1997-08-17","w":1500,"p":2000},{"t":"1997-08-19","w":1500,"p":2500},{"t":"1997-08-21","w":1500,"p":2000},{"t":"1997-08-23","w":1500,"p":1500},{"t":"1997-08-25","w":1500,"p":2000},{"t":"1997-08-27","w":1500,"p":2000},{"t":"1997-08-29","w":1500,"p":2500},{"t":"1997-08-31","w":1500,"p":2000},
{"t":"1997-09-02","w":1500,"p":2000},{"t":"1997-09-04","w":1500,"p":1500},{"t":"1997-09-06","w":1500,"p":2000},{"t":"1997-09-08","w":1500,"p":2500},{"t":"1997-09-10","w":1500,"p":2000},{"t":"1997-09-12","w":1500,"p":1500},{"t":"1997-09-14","w":1500,"p":2000},{"t":"1997-09-16","w":1500,"p":2000},{"t":"1997-09-18","w":1500,"p":2500},{"t":"1997-09-20","w":1500,"p":2000},{"t":"1997-09-22","w":1500,"p":1500},{"t":"1997-09-24","w":1500,"p":2000},{"t":"1997-09-26","w":1500,"p":2000},{"t":"1997-09-28","w":1500,"p":2500},{"t":"1997-09-30","w":1500,"p":2000}
]
},
"vconcat":[
{
 "width":981,"height":315,
 "layer":[
  {"data":{"name":"a"},
   "layer":[
    {"mark":{"type":"line","strokeWidth":1.2},
     "encoding":{
      "x":{"field":"t","type":"temporal","scale":{"type":"utc","nice":false,"domain":[{"year":1996,"month":9,"date":13,"utc":true},{"year":1997,"month":10,"date":18,"utc":true}]},"axis":{"orient":"bottom","title":null,"tickCount":{"interval":"month","step":1},"format":"%Y-%m","labelExpr":"utcmonth(datum.value) % 2 == 0 ? datum.label : ''","labelFlush":false,"labelOverlap":false,"labelPadding":8}},
      "y":{"field":"w","type":"quantitative","scale":{"domain":[-8.1,170.6],"nice":false,"zero":false},"axis":{"orient":"left","values":[0,20,40,60,80,100,120,140,160],"tickCount":20,"format":"d","labelOverlap":false,"title":["Daily Basin-averaged Precipitation","(mm)"]}},
      "color":{"datum":"Daily WRF","scale":{"domain":["Daily WRF","Daily PRISM"],"range":["#1f77b4","#808080"]},"legend":{"title":null,"orient":"top-left","encode":{"symbols":{"update":{"shape":{"signal":"datum.value == 'Daily WRF' ? 'M-1,0H5.4' : 'M3.2,0A1,1,0,1,0,1.2,0A1,1,0,1,0,3.2,0Z'"},"stroke":{"signal":"datum.value == 'Daily WRF' ? '#1f77b4' : 'transparent'"},"fill":{"signal":"datum.value == 'Daily WRF' ? 'transparent' : '#808080'"},"strokeWidth":{"value":1.5},"opacity":{"value":1}}}}}}
     }},
    {"mark":{"type":"point","filled":true,"size":66,"opacity":1},
     "encoding":{"x":{"field":"t","type":"temporal"},"y":{"field":"p","type":"quantitative"},"color":{"datum":"Daily PRISM"}}},
    {"data":{"values":[{}]},"mark":{"type":"text","color":"black","fontSize":17.5,"fontStyle":"italic","lineHeight":19,"align":"left","baseline":"top","dy":-37},
     "encoding":{"x":{"datum":{"year":1996,"month":9,"date":13,"utc":true}},"y":{"datum":170.6},"text":{"value":["Daily NSE = 0.84","Daily RMSE = 6.0 mm"]}}},
    {"data":{"values":[{}]},"mark":{"type":"text","color":"black","fontSize":17.5,"fontStyle":"italic","lineHeight":19,"align":"right","baseline":"top","dy":-37},
     "encoding":{"x":{"datum":{"year":1997,"month":10,"date":18,"utc":true}},"y":{"datum":170.6},"text":{"value":["Monthly NSE = 0.96","Monthly RMSE = 45.2 mm"]}}},
    {"data":{"values":[{}]},"mark":{"type":"text","color":"black","fontSize":19,"fontWeight":"bold","align":"left","baseline":"top","dx":-97,"dy":-37},
     "encoding":{"x":{"datum":{"year":1996,"month":9,"date":13,"utc":true}},"y":{"datum":170.6},"text":{"value":"A"}}}
   ]},
  {"data":{"name":"m"},
   "layer":[
    {"mark":{"type":"line","strokeWidth":1.5},
     "encoding":{
      "x":{"field":"t","type":"temporal","axis":{"orient":"top","title":null,"tickCount":{"interval":"month","step":1},"labels":false}},
      "y":{"field":"aw","type":"quantitative","scale":{"domain":[-33.5,702.5],"nice":false,"zero":false},"axis":{"orient":"right","values":[0,100,200,300,400,500,600,700],"tickCount":20,"format":"d","labelOverlap":false,"title":["Monthly Basin-averaged Precipitation","(mm)"],"titleAngle":270,"titleBaseline":"top","titlePadding":-15}},
      "stroke":{"datum":"Monthly WRF","scale":{"domain":["Monthly WRF","Monthly PRISM"],"range":["#ff0000","#000000"]},"legend":{"title":null,"orient":"top-right","encode":{"symbols":{"update":{"shape":{"value":"M-1,0H5.4"},"strokeWidth":{"value":1.5}}}}}}
     }},
    {"mark":{"type":"line","strokeWidth":1.5},
     "encoding":{"x":{"field":"t","type":"temporal"},"y":{"field":"ap","type":"quantitative"},"stroke":{"datum":"Monthly PRISM"}}}
   ]}
 ],
 "resolve":{"scale":{"y":"independent"},"axis":{"x":"independent"}}
},
{
 "width":981,"height":315,
 "layer":[
  {"data":{"name":"b"},
   "layer":[
    {"mark":{"type":"line","strokeWidth":1.2},
     "encoding":{
      "x":{"field":"t","type":"temporal","scale":{"type":"utc","nice":false,"domain":[{"year":1996,"month":9,"date":13,"utc":true},{"year":1997,"month":10,"date":18,"utc":true}]},"axis":{"orient":"bottom","title":null,"tickCount":{"interval":"month","step":1},"format":"%Y-%m","labelExpr":"utcmonth(datum.value) % 2 == 0 ? datum.label : ''","labelFlush":false,"labelOverlap":false,"labelPadding":8}},
      "y":{"field":"w","type":"quantitative","scale":{"domain":[-5,40],"nice":false,"zero":false},"axis":{"orient":"left","values":[-5,0,5,10,15,20,25,30,35,40],"tickCount":20,"format":"d","labelOverlap":false,"title":["Daily Basin-averaged Temperature","(C)"]}},
      "color":{"datum":"Daily WRF","scale":{"domain":["Daily WRF","Daily PRISM"],"range":["#1f77b4","#808080"]},"legend":{"title":null,"orient":"top-left","encode":{"symbols":{"update":{"shape":{"signal":"datum.value == 'Daily WRF' ? 'M-1,0H5.4' : 'M3.2,0A1,1,0,1,0,1.2,0A1,1,0,1,0,3.2,0Z'"},"stroke":{"signal":"datum.value == 'Daily WRF' ? '#1f77b4' : 'transparent'"},"fill":{"signal":"datum.value == 'Daily WRF' ? 'transparent' : '#808080'"},"strokeWidth":{"value":1.5},"opacity":{"value":1}}}}}}
     }},
    {"mark":{"type":"point","filled":true,"size":66,"opacity":1},
     "encoding":{"x":{"field":"t","type":"temporal"},"y":{"field":"p","type":"quantitative"},"color":{"datum":"Daily PRISM"}}},
    {"data":{"values":[{}]},"mark":{"type":"text","color":"black","fontSize":17.5,"fontStyle":"italic","lineHeight":19,"align":"left","baseline":"top","dy":-37},
     "encoding":{"x":{"datum":{"year":1996,"month":9,"date":13,"utc":true}},"y":{"datum":40},"text":{"value":["Daily NSE = 0.88","Daily RMSE = 2.3 C"]}}},
    {"data":{"values":[{}]},"mark":{"type":"text","color":"black","fontSize":17.5,"fontStyle":"italic","lineHeight":19,"align":"right","baseline":"top","dy":-37},
     "encoding":{"x":{"datum":{"year":1997,"month":10,"date":18,"utc":true}},"y":{"datum":40},"text":{"value":["Monthly NSE = 0.98","Monthly RMSE = 0.9 C"]}}},
    {"data":{"values":[{}]},"mark":{"type":"text","color":"black","fontSize":19,"fontWeight":"bold","align":"left","baseline":"top","dx":-97,"dy":-37},
     "encoding":{"x":{"datum":{"year":1996,"month":9,"date":13,"utc":true}},"y":{"datum":40},"text":{"value":"B"}}}
   ]},
  {"data":{"name":"m"},
   "layer":[
    {"mark":{"type":"line","strokeWidth":1.5},
     "encoding":{
      "x":{"field":"t","type":"temporal","axis":{"orient":"top","title":null,"tickCount":{"interval":"month","step":1},"labels":false}},
      "y":{"field":"bw","type":"quantitative","scale":{"domain":[-5,40],"nice":false,"zero":false},"axis":{"orient":"right","values":[-5,0,5,10,15,20,25,30,35,40],"tickCount":20,"format":"d","labelOverlap":false,"title":["Monthly Basin-averaged Temperature","(C)"],"titleAngle":270,"titleBaseline":"top","titlePadding":-15}},
      "stroke":{"datum":"Monthly WRF","scale":{"domain":["Monthly WRF","Monthly PRISM"],"range":["#ff0000","#000000"]},"legend":{"title":null,"orient":"top-right","encode":{"symbols":{"update":{"shape":{"value":"M-1,0H5.4"},"strokeWidth":{"value":1.5}}}}}}
     }},
    {"mark":{"type":"line","strokeWidth":1.5},
     "encoding":{"x":{"field":"t","type":"temporal"},"y":{"field":"bp","type":"quantitative"},"stroke":{"datum":"Monthly PRISM"}}}
   ]}
 ],
 "resolve":{"scale":{"y":"independent"},"axis":{"x":"independent"}}
},
{
 "width":981,"height":315,
 "data":{"name":"c"},
 "layer":[
  {"layer":[
    {"mark":{"type":"bar","width":4.3,"opacity":1},
     "encoding":{
      "x":{"field":"t","type":"temporal","scale":{"type":"utc","nice":false,"domain":[{"year":1996,"month":9,"date":13,"utc":true},{"year":1997,"month":10,"date":18,"utc":true}]},"axis":{"orient":"bottom","title":null,"tickCount":{"interval":"month","step":1},"format":"%Y-%m","labelExpr":"utcmonth(datum.value) % 2 == 0 ? datum.label : ''","labelFlush":false,"labelOverlap":false,"labelPadding":8}},
      "y":{"field":"lo","type":"quantitative","stack":null,"scale":{"domain":[0,70],"nice":false},"axis":{"orient":"left","values":[0,10,20,30,40,50,60,70],"tickCount":20,"format":"d","labelOverlap":false,"title":["Daily SWE","(in)"]}},
      "color":{"datum":"LOS Obs","scale":{"domain":["LOS SNOW Module","GKS SNOW Module","LOS Obs","GKS Obs"],"range":["#f39c1a","#0000cd","#fdd9a5","#87ceeb"]},"legend":{"title":null,"orient":"top-right","encode":{"symbols":{"update":{"shape":{"signal":"indexof(datum.value,'Module') >= 0 ? 'M-1,0H5.4' : 'M-1,-1.5H5.4V1.5H-1Z'"},"stroke":{"signal":"datum.value == 'LOS SNOW Module' ? '#f39c1a' : datum.value == 'GKS SNOW Module' ? '#0000cd' : 'transparent'"},"fill":{"signal":"datum.value == 'LOS Obs' ? '#fdd9a5' : datum.value == 'GKS Obs' ? '#87ceeb' : 'transparent'"},"strokeWidth":{"value":1.5},"opacity":{"value":1}}}}}}
     }},
    {"mark":{"type":"bar","width":4.3,"opacity":1},
     "encoding":{"x":{"field":"t","type":"temporal"},"y":{"field":"go","type":"quantitative","stack":null},"color":{"datum":"GKS Obs"}}},
    {"mark":{"type":"line","strokeWidth":1.5},
     "encoding":{"x":{"field":"t","type":"temporal"},"y":{"field":"l","type":"quantitative"},"color":{"datum":"LOS SNOW Module"}}},
    {"data":{"values":[{}]},"mark":{"type":"text","color":"black","fontSize":17.5,"fontStyle":"italic","lineHeight":19,"align":"left","baseline":"top","dy":-37},
     "encoding":{"x":{"datum":{"year":1996,"month":9,"date":13,"utc":true}},"y":{"datum":70},"text":{"value":["Daily GKS NSE = 0.28","Daily GKS RMSE = 6.8 in"]}}},
    {"data":{"values":[{}]},"mark":{"type":"text","color":"black","fontSize":17.5,"fontStyle":"italic","lineHeight":19,"align":"right","baseline":"top","dy":-37},
     "encoding":{"x":{"datum":{"year":1997,"month":10,"date":18,"utc":true}},"y":{"datum":70},"text":{"value":["Daily LOS NSE = -1.49","Daily LOS RMSE = 22.1 in"]}}},
    {"data":{"values":[{}]},"mark":{"type":"text","color":"black","fontSize":19,"fontWeight":"bold","align":"left","baseline":"top","dx":-97,"dy":-37},
     "encoding":{"x":{"datum":{"year":1996,"month":9,"date":13,"utc":true}},"y":{"datum":70},"text":{"value":"C"}}}
  ]},
  {"mark":{"type":"line","strokeWidth":1.5},
   "encoding":{
    "x":{"field":"t","type":"temporal","axis":{"orient":"top","title":null,"tickCount":{"interval":"month","step":1},"labels":false}},
    "y":{"field":"g","type":"quantitative","axis":{"orient":"right","values":[0,10,20,30,40,50,60,70],"tickCount":20,"labels":false,"title":null}},
    "color":{"datum":"GKS SNOW Module","legend":{"title":null,"orient":"top-right","encode":{"symbols":{"update":{"shape":{"signal":"indexof(datum.value,'Module') >= 0 ? 'M-1,0H5.4' : 'M-1,-1.5H5.4V1.5H-1Z'"},"stroke":{"signal":"datum.value == 'LOS SNOW Module' ? '#f39c1a' : datum.value == 'GKS SNOW Module' ? '#0000cd' : 'transparent'"},"fill":{"signal":"datum.value == 'LOS Obs' ? '#fdd9a5' : datum.value == 'GKS Obs' ? '#87ceeb' : 'transparent'"},"strokeWidth":{"value":1.5},"opacity":{"value":1}}}}}}}}
 ],
 "resolve":{"axis":{"x":"independent","y":"independent"}}
},
{
 "width":981,"height":315,
 "layer":[
  {"data":{"name":"d"},
   "layer":[
    {"mark":{"type":"line","strokeWidth":1.2},
     "encoding":{
      "x":{"field":"t","type":"temporal","scale":{"type":"utc","nice":false,"domain":[{"year":1996,"month":9,"date":13,"utc":true},{"year":1997,"month":10,"date":18,"utc":true}]},"axis":{"orient":"bottom","title":null,"tickCount":{"interval":"month","step":1},"format":"%Y-%m","labelExpr":"utcmonth(datum.value) % 2 == 0 ? datum.label : ''","labelFlush":false,"labelOverlap":false,"labelPadding":8}},
      "y":{"field":"w","type":"quantitative","scale":{"domain":[-12600,264600],"nice":false,"zero":false},"axis":{"orient":"left","values":[0,50000,100000,150000,200000,250000],"tickCount":20,"format":"d","labelOverlap":false,"title":["Daily Inflow","(cfs)"]}},
      "color":{"datum":"Daily WEHY-HCM","scale":{"domain":["Daily WEHY-HCM","Daily NAT FNF Obs"],"range":["#1f77b4","#808080"]},"legend":{"title":null,"orient":"top-left","encode":{"symbols":{"update":{"shape":{"signal":"datum.value == 'Daily WEHY-HCM' ? 'M-1,0H5.4' : 'M3.2,0A1,1,0,1,0,1.2,0A1,1,0,1,0,3.2,0Z'"},"stroke":{"signal":"datum.value == 'Daily WEHY-HCM' ? '#1f77b4' : 'transparent'"},"fill":{"signal":"datum.value == 'Daily WEHY-HCM' ? 'transparent' : '#808080'"},"strokeWidth":{"value":1.5},"opacity":{"value":1}}}}}}
     }},
    {"mark":{"type":"point","filled":true,"size":66,"opacity":1},
     "encoding":{"x":{"field":"t","type":"temporal"},"y":{"field":"p","type":"quantitative"},"color":{"datum":"Daily NAT FNF Obs"}}},
    {"data":{"values":[{}]},"mark":{"type":"text","color":"black","fontSize":17.5,"fontStyle":"italic","lineHeight":19,"align":"left","baseline":"top","dy":-37},
     "encoding":{"x":{"datum":{"year":1996,"month":9,"date":13,"utc":true}},"y":{"datum":264600},"text":{"value":["Daily NSE = 0.73","Daily RMSE = 9083.4 cfs"]}}},
    {"data":{"values":[{}]},"mark":{"type":"text","color":"black","fontSize":17.5,"fontStyle":"italic","lineHeight":19,"align":"right","baseline":"top","dy":-37},
     "encoding":{"x":{"datum":{"year":1997,"month":10,"date":18,"utc":true}},"y":{"datum":264600},"text":{"value":["Monthly NSE = 0.94","Monthly RMSE = 134.4 TAF"]}}},
    {"data":{"values":[{}]},"mark":{"type":"text","color":"black","fontSize":19,"fontWeight":"bold","align":"left","baseline":"top","dx":-97,"dy":-37},
     "encoding":{"x":{"datum":{"year":1996,"month":9,"date":13,"utc":true}},"y":{"datum":264600},"text":{"value":"D"}}}
   ]},
  {"data":{"name":"m"},
   "layer":[
    {"mark":{"type":"line","strokeWidth":1.5},
     "encoding":{
      "x":{"field":"t","type":"temporal","axis":{"orient":"top","title":null,"tickCount":{"interval":"month","step":1},"labels":false}},
      "y":{"field":"dw","type":"quantitative","scale":{"domain":[-99.5,2089],"nice":false,"zero":false},"axis":{"orient":"right","values":[0,250,500,750,1000,1250,1500,1750,2000],"tickCount":20,"format":"d","labelOverlap":false,"title":["Monthly Inflow Volume","(TAF)"],"titleAngle":270,"titleBaseline":"top","titlePadding":-15}},
      "stroke":{"datum":"Monthly WEHY-HCM","scale":{"domain":["Monthly WEHY-HCM","Monthly AMF FNF Obs"],"range":["#ff0000","#000000"]},"legend":{"title":null,"orient":"top-right","encode":{"symbols":{"update":{"shape":{"value":"M-1,0H5.4"},"strokeWidth":{"value":1.5}}}}}}
     }},
    {"mark":{"type":"line","strokeWidth":1.5},
     "encoding":{"x":{"field":"t","type":"temporal"},"y":{"field":"dp","type":"quantitative"},"stroke":{"datum":"Monthly AMF FNF Obs"}}}
   ]}
 ],
 "resolve":{"scale":{"y":"independent"},"axis":{"x":"independent"}}
}
],
"spacing":12,
"resolve":{"scale":{"x":"independent","y":"independent","color":"independent","stroke":"independent"},"legend":{"color":"independent","stroke":"independent"}}
}
